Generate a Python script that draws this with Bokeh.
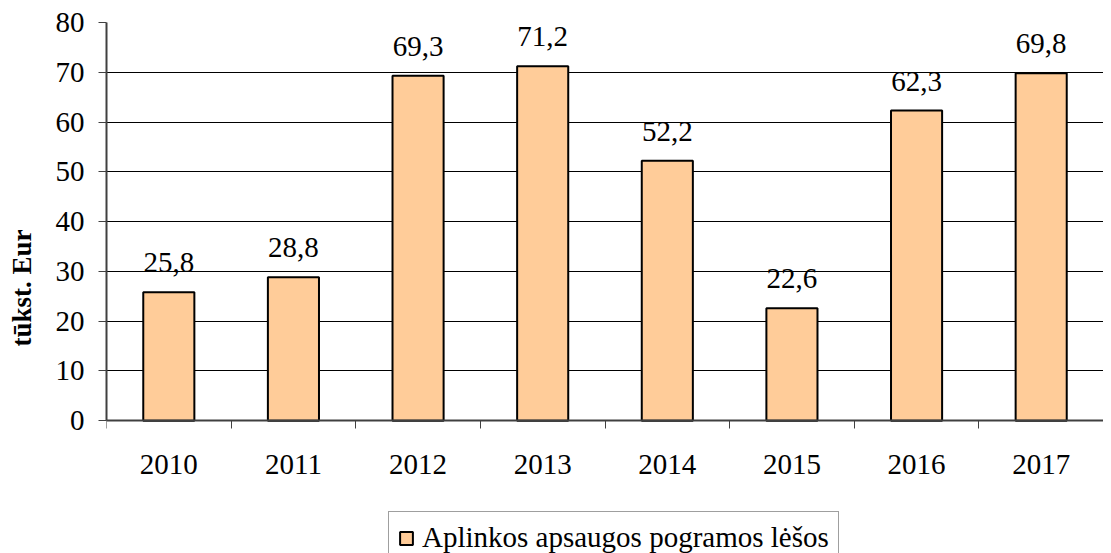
from bokeh.plotting import figure
from bokeh.models import (ColumnDataSource, Range1d, FixedTicker, Legend, LegendItem,
                          LabelSet)
from bokeh.embed import file_html
from bokeh.resources import INLINE

years = [2010, 2011, 2012, 2013, 2014, 2015, 2016, 2017]
values = [25.8, 28.8, 69.3, 71.2, 52.2, 22.6, 62.3, 69.8]
series_name = "Aplinkos apsaugos pogramos lėšos"
y_label = "tūkst. Eur"
y_ticks = [0, 10, 20, 30, 40, 50, 60, 70, 80]

labels = [f"{v:.1f}".replace(".", ",") for v in values]
source = ColumnDataSource(dict(x=years, top=values, label=labels))

FONT = "Liberation Serif"
FS = "29px"

# frame extends below the zero line so the legend can sit under the axis labels
p = figure(frame_width=997, frame_height=531, output_backend="svg", toolbar_location=None,
           x_range=Range1d(years[0] - 0.5, years[-1] + 0.5),
           y_range=Range1d(-26.7, 80),
           min_border_left=106, min_border_right=0, min_border_top=22,
           min_border_bottom=0)
p.outline_line_color = None
p.background_fill_color = "white"
p.border_fill_color = "white"

bars = p.vbar(x="x", top="top", width=0.41, bottom=0, source=source,
              fill_color="#FFCC99", line_color="black", line_width=2)

lbl = LabelSet(x="x", y="top", text="label", source=source, text_align="center",
               text_baseline="alphabetic", y_offset=20,
               text_font=FONT, text_font_size=FS, text_color="black")
p.add_layout(lbl)

# grid
p.xgrid.grid_line_color = None
p.ygrid.grid_line_color = "black"
p.ygrid.grid_line_width = 1
p.ygrid.ticker = FixedTicker(ticks=y_ticks)

# y axis
yax = p.yaxis[0]
yax.ticker = FixedTicker(ticks=y_ticks)
yax.bounds = (y_ticks[0], y_ticks[-1])
yax.axis_line_color = "#404040"
yax.axis_line_width = 2
yax.major_tick_line_color = "#404040"
yax.major_tick_out = 8
yax.major_tick_in = 0
yax.minor_tick_line_color = None
yax.major_label_standoff = 14
yax.major_label_text_font = FONT
yax.major_label_text_font_size = FS
yax.major_label_text_color = "black"
yax.axis_label = y_label
yax.axis_label_text_font = FONT
yax.axis_label_text_font_style = "bold"
yax.axis_label_text_font_size = "27px"
yax.axis_label_text_color = "black"
yax.axis_label_standoff = 16

# x axis, drawn at the zero line
minor = [y - 0.5 for y in years] + [years[-1] + 0.5]
xax = p.xaxis[0]
xax.fixed_location = 0
xax.ticker = FixedTicker(ticks=years, minor_ticks=minor)
xax.axis_line_color = "#404040"
xax.axis_line_width = 2
xax.major_tick_line_color = None
xax.major_tick_out = 0
xax.major_tick_in = 0
xax.minor_tick_line_color = "#404040"
xax.minor_tick_out = 8
xax.minor_tick_in = 0
xax.major_label_standoff = 26
xax.major_label_text_font = FONT
xax.major_label_text_font_size = FS
xax.major_label_text_color = "black"

legend = Legend(items=[LegendItem(label=series_name, renderers=[bars])],
                location=(282, -11), orientation="horizontal",
                label_text_font=FONT, label_text_font_size=FS,
                label_text_color="black", glyph_width=16, glyph_height=16,
                label_standoff=8, padding=9, spacing=0, margin=0,
                border_line_color="#404040", border_line_width=1,
                background_fill_alpha=1.0)
p.add_layout(legend, "center")

open("out.html", "w").write(file_html(p, INLINE))
